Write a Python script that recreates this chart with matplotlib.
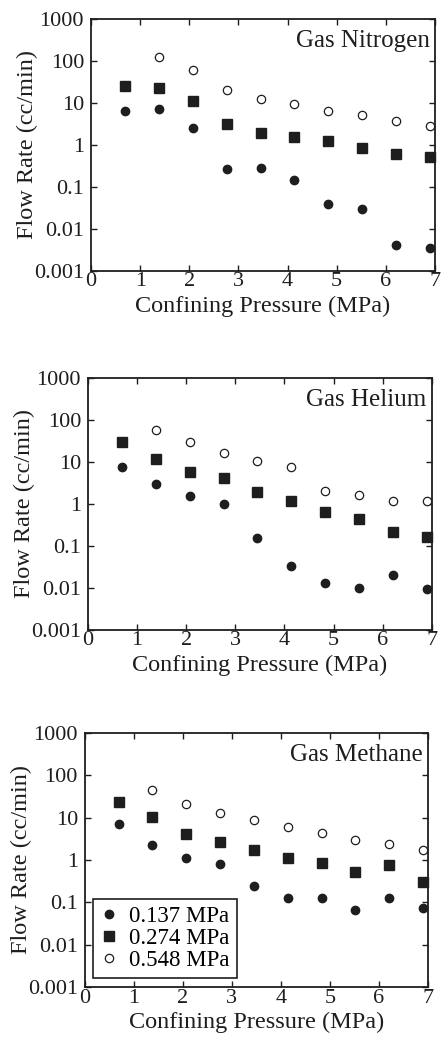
import numpy as np
import matplotlib
matplotlib.use('Agg')
import matplotlib.pyplot as plt

plt.rcParams['font.family'] = ['Liberation Serif', 'DejaVu Serif']

# confining pressure steps (MPa)
pressure = [0.69, 1.38, 2.07, 2.76, 3.45, 4.14, 4.83, 5.52, 6.21, 6.90]

# Nitrogen flow rates (cc/min)
n2_137 = [6.5, 7.0, 2.5, 0.26, 0.285, 0.145, 0.040, 0.029, 0.0042, 0.0035]
n2_274 = [25.7, 23, 11.3, 3.1, 1.9, 1.5, 1.2, 0.82, 0.59, 0.52]
n2_548 = [120, 59, 20, 12, 9.2, 6.5, 5.0, 3.7, 2.8]

# Helium flow rates
he_137 = [7.4, 3.0, 1.56, 0.99, 0.153, 0.0335, 0.0129, 0.0102, 0.020, 0.0093]
he_274 = [29, 11.7, 5.7, 4.1, 1.9, 1.2, 0.66, 0.43, 0.22, 0.16]
he_548 = [59, 29, 16, 10.7, 7.7, 2.0, 1.65, 1.19, 1.19]

# Methane flow rates
ch4_137 = [7.2, 2.2, 1.1, 0.82, 0.25, 0.126, 0.126, 0.065, 0.126, 0.075]
ch4_274 = [23, 10.4, 4.2, 2.7, 1.7, 1.1, 0.85, 0.52, 0.75, 0.30]
ch4_548 = [46, 21, 12.9, 8.7, 6.1, 4.4, 2.9, 2.4, 1.7]

gases = ['Gas Nitrogen', 'Gas Helium', 'Gas Methane']
data = [(n2_137, n2_274, n2_548), (he_137, he_274, he_548), (ch4_137, ch4_274, ch4_548)]
labels = ['0.137 MPa', '0.274 MPa', '0.548 MPa']
yticks = [0.001, 0.01, 0.1, 1, 10, 100, 1000]
ytick_labels = ['0.001', '0.01', '0.1', '1', '10', '100', '1000']

# axes boxes [left, bottom, width, height] in figure fraction
boxes = [[0.206, 0.739, 0.778, 0.243],
         [0.199, 0.393, 0.778, 0.243],
         [0.192, 0.049, 0.776, 0.245]]

ink = '#1e1e1e'
fig = plt.figure(figsize=(4.42, 10.38), dpi=100)

for i, (gas, (s1, s2, s3)) in enumerate(zip(gases, data)):
    ax = fig.add_axes(boxes[i])
    ax.plot(pressure, s1, 'o', ms=6, color=ink, mec=ink, label=labels[0], clip_on=False)
    ax.plot(pressure, s2, 's', ms=7, color=ink, mec=ink, label=labels[1], clip_on=False)
    ax.plot(pressure[1:], s3, 'o', ms=6, mfc='white', mec=ink, mew=0.9, label=labels[2], clip_on=False)
    ax.set_yscale('log')
    ax.set_xlim(0, 7)
    ax.set_ylim(0.001, 1000)
    ax.set_yticks(yticks)
    ax.set_yticklabels(ytick_labels)
    ax.minorticks_off()
    ax.set_xticks(range(8))
    ax.tick_params(direction='in', top=True, right=True, length=4, width=1,
                   labelsize=16, colors=ink)
    ax.tick_params(axis='x', pad=1)
    ax.tick_params(axis='y', pad=5)
    for sp in ax.spines.values():
        sp.set_linewidth(1.3)
        sp.set_color(ink)
    ax.set_xlabel('Confining Pressure (MPa)', fontsize=17.5, color=ink, labelpad=3)
    ax.set_ylabel('Flow Rate (cc/min)', fontsize=17.5, color=ink, labelpad=-3)
    ax.text(0.985, 0.955, gas, transform=ax.transAxes, ha='right', va='top',
            fontsize=18, color=ink)
    if i == 2:
        leg = ax.legend(loc='lower left', bbox_to_anchor=(0.023, 0.035), borderaxespad=0,
                        fontsize=16.5, fancybox=False, framealpha=1, edgecolor=ink,
                        handlelength=0.8, handletextpad=0.5, borderpad=0.3,
                        labelspacing=0.05)
        leg.get_frame().set_linewidth(1.2)

fig.savefig('out.png', dpi=100)
